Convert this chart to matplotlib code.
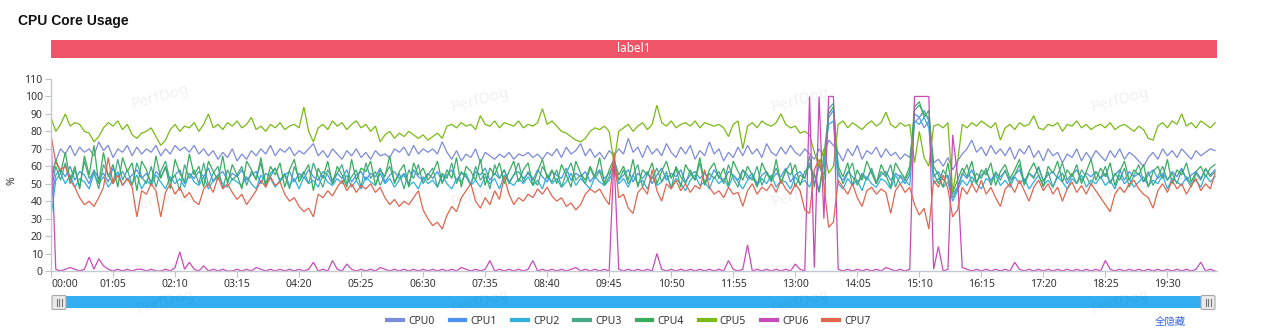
import numpy as np
import matplotlib
matplotlib.use("Agg")
import matplotlib.pyplot as plt
from matplotlib.patches import Rectangle, FancyBboxPatch

plt.rcParams['font.family'] = ['Noto Sans', 'Noto Sans CJK SC', 'DejaVu Sans']

# ---------------- data ----------------
STEP = 5  # seconds between samples
series_names = ["CPU0", "CPU1", "CPU2", "CPU3", "CPU4", "CPU5", "CPU6", "CPU7"]
tick_seconds = [0, 65, 130, 195, 260, 325, 390, 455, 520, 585, 650, 715, 780, 845, 910, 975, 1040, 1105, 1170]
tick_labels = ["00:00", "01:05", "02:10", "03:15", "04:20", "05:25", "06:30", "07:35", "08:40", "09:45",
               "10:50", "11:55", "13:00", "14:05", "15:10", "16:15", "17:20", "18:25", "19:30"]
y_ticks = [0, 10, 20, 30, 40, 50, 60, 70, 80, 90, 100, 110]

cpu0 = [55, 63, 70, 67, 72, 66, 71, 68, 70, 66, 74, 69, 72, 65, 70, 68, 72, 66, 71, 67,
        70, 68, 72, 66, 70, 67, 72, 69, 71, 68, 72, 67, 70, 66, 69, 64, 68, 65, 70, 63,
        67, 64, 69, 66, 70, 67, 72, 66, 70, 68, 71, 66, 69, 67, 70, 73, 66, 69, 65, 70,
        67, 64, 69, 66, 70, 65, 68, 64, 69, 66, 67, 65, 70, 68, 71, 66, 72, 67, 70, 68,
        70, 67, 74, 68, 64, 69, 63, 67, 65, 70, 62, 68, 66, 64, 67, 65, 68, 64, 67, 66,
        68, 65, 67, 64, 68, 66, 70, 65, 71, 67, 69, 73, 66, 70, 65, 68, 64, 69, 66, 70,
        67, 76, 68, 71, 65, 72, 67, 70, 66, 73, 68, 65, 71, 67, 72, 64, 69, 66, 74, 67,
        70, 63, 68, 65, 71, 66, 72, 67, 70, 65, 73, 68, 66, 71, 67, 72, 68, 66, 70, 67,
        64, 70, 66, 75, 72, 68, 63, 70, 66, 72, 64, 69, 67, 71, 65, 70, 66, 68, 64, 67,
        65, 85, 88, 82, 86, 62, 64, 60, 65, 58, 63, 67, 70, 75, 68, 71, 66, 72, 67, 70,
        66, 71, 64, 70, 67, 72, 65, 69, 63, 70, 66, 68, 62, 67, 65, 70, 63, 68, 64, 69,
        66, 63, 69, 65, 70, 64, 68, 66, 63, 60, 65, 68, 64, 70, 66, 69, 65, 70, 67, 64,
        69, 66, 68, 70, 69]

cpu1 = [40, 55, 58, 54, 60, 52, 57, 55, 50, 58, 53, 56, 51, 59, 54, 57, 52, 55, 58, 53,
        56, 51, 57, 54, 59, 52, 55, 58, 50, 56, 53, 57, 54, 59, 51, 55, 57, 52, 56, 54,
        58, 52, 55, 57, 50, 56, 54, 59, 52, 55, 57, 51, 56, 53, 58, 54, 52, 57, 55, 50,
        56, 53, 58, 51, 55, 57, 52, 56, 54, 59, 51, 55, 57, 53, 56, 50, 58, 54, 52, 56,
        53, 57, 51, 55, 58, 52, 56, 54, 50, 57, 55, 59, 52, 56, 53, 58, 51, 55, 57, 53,
        56, 52, 58, 54, 51, 57, 55, 53, 59, 52, 56, 54, 57, 51, 55, 58, 53, 56, 60, 52,
        55, 58, 51, 56, 53, 57, 50, 55, 59, 52, 56, 54, 58, 51, 55, 57, 53, 56, 52, 58,
        54, 51, 57, 55, 52, 58, 53, 56, 50, 55, 57, 52, 56, 54, 59, 51, 55, 57, 53, 62,
        50, 60, 55, 88, 92, 55, 52, 57, 54, 50, 56, 53, 58, 51, 55, 57, 52, 56, 54, 50,
        55, 90, 88, 92, 86, 54, 57, 52, 55, 44, 48, 56, 53, 58, 51, 55, 57, 52, 56, 54,
        57, 52, 55, 58, 51, 56, 54, 59, 52, 55, 57, 53, 56, 50, 55, 58, 52, 56, 54, 57,
        53, 56, 51, 55, 58, 52, 57, 54, 56, 51, 55, 58, 53, 56, 52, 57, 54, 59, 52, 55,
        57, 53, 58, 55, 58]

cpu2 = [31, 52, 56, 50, 55, 48, 53, 51, 47, 56, 50, 54, 48, 52, 57, 49, 53, 50, 55, 47,
        52, 49, 55, 51, 47, 54, 50, 53, 48, 56, 51, 49, 54, 47, 52, 55, 50, 48, 53, 51,
        49, 54, 50, 47, 55, 51, 53, 48, 52, 56, 49, 53, 47, 54, 50, 52, 48, 55, 51, 49,
        53, 50, 55, 48, 52, 47, 54, 51, 49, 56, 50, 53, 48, 52, 55, 49, 51, 47, 54, 50,
        52, 48, 55, 50, 47, 53, 51, 56, 49, 52, 48, 54, 50, 53, 47, 55, 51, 49, 53, 50,
        54, 49, 52, 47, 55, 50, 53, 48, 51, 56, 49, 53, 50, 47, 54, 51, 49, 52, 58, 50,
        53, 48, 55, 50, 52, 47, 54, 49, 51, 55, 48, 53, 50, 46, 52, 55, 49, 51, 47, 54,
        50, 53, 48, 55, 51, 47, 52, 54, 49, 53, 50, 55, 48, 52, 51, 47, 54, 50, 52, 48,
        56, 46, 62, 84, 86, 50, 47, 53, 49, 52, 46, 54, 50, 48, 53, 51, 47, 55, 50, 52,
        49, 86, 84, 88, 82, 50, 53, 48, 51, 40, 46, 52, 49, 54, 50, 47, 53, 51, 55, 49,
        52, 48, 54, 50, 53, 47, 51, 55, 49, 52, 48, 54, 51, 47, 53, 50, 55, 48, 52, 50,
        54, 49, 52, 47, 55, 50, 53, 48, 51, 54, 49, 52, 50, 55, 47, 53, 51, 49, 54, 50,
        52, 48, 55, 51, 54]

cpu3 = [45, 60, 52, 62, 50, 58, 48, 63, 53, 57, 47, 61, 55, 50, 64, 52, 58, 49, 62, 54,
        50, 60, 48, 57, 63, 51, 55, 46, 61, 53, 58, 50, 62, 49, 56, 60, 47, 58, 52, 55,
        60, 49, 57, 53, 62, 48, 56, 59, 51, 55, 47, 60, 53, 57, 50, 62, 54, 48, 58, 52,
        56, 61, 50, 54, 58, 48, 62, 53, 57, 49, 55, 60, 51, 56, 47, 58, 53, 61, 50, 55,
        59, 48, 56, 53, 62, 50, 57, 54, 49, 60, 52, 56, 47, 61, 53, 58, 50, 55, 62, 51,
        57, 53, 49, 60, 55, 51, 58, 48, 56, 62, 52, 55, 50, 59, 53, 57, 49, 54, 63, 52,
        58, 50, 55, 61, 48, 56, 53, 59, 51, 57, 47, 60, 54, 50, 58, 52, 62, 49, 56, 53,
        57, 50, 61, 53, 48, 58, 55, 52, 60, 49, 56, 53, 59, 51, 57, 62, 48, 55, 53, 66,
        48, 62, 52, 93, 96, 58, 50, 56, 62, 49, 55, 52, 59, 50, 57, 54, 61, 48, 55, 52,
        57, 92, 95, 90, 88, 56, 50, 58, 53, 42, 47, 55, 61, 50, 56, 53, 59, 49, 57, 52,
        58, 50, 55, 61, 49, 56, 53, 60, 51, 57, 48, 55, 62, 52, 56, 50, 58, 54, 49, 57,
        53, 60, 50, 56, 52, 59, 48, 55, 61, 51, 57, 49, 54, 60, 52, 56, 50, 58, 53, 48,
        56, 52, 59, 54, 57]

cpu4 = [50, 64, 56, 68, 52, 60, 47, 66, 55, 72, 50, 68, 54, 61, 48, 65, 57, 62, 46, 63,
        58, 49, 66, 53, 60, 47, 64, 56, 51, 67, 55, 60, 48, 63, 57, 52, 66, 50, 61, 55,
        47, 63, 58, 52, 65, 49, 60, 55, 62, 48, 58, 64, 51, 56, 61, 46, 59, 53, 63, 50,
        60, 55, 48, 64, 52, 59, 57, 63, 49, 58, 54, 66, 50, 57, 61, 48, 62, 55, 59, 52,
        56, 63, 50, 58, 53, 65, 48, 60, 57, 52, 64, 49, 59, 55, 62, 50, 57, 63, 51, 58,
        62, 49, 57, 64, 53, 58, 50, 61, 55, 48, 63, 56, 52, 60, 54, 65, 50, 58, 64, 55,
        60, 52, 64, 48, 58, 55, 62, 50, 57, 63, 53, 59, 48, 61, 56, 52, 65, 50, 58, 62,
        53, 59, 49, 63, 57, 52, 60, 55, 48, 62, 56, 51, 64, 50, 58, 55, 61, 49, 57, 60,
        55, 45, 66, 90, 94, 60, 54, 62, 49, 58, 52, 63, 56, 50, 61, 55, 48, 62, 57, 53,
        60, 94, 97, 88, 92, 60, 55, 48, 62, 45, 52, 59, 54, 63, 50, 58, 55, 62, 49, 57,
        61, 53, 58, 64, 50, 57, 62, 55, 48, 60, 56, 63, 51, 58, 54, 61, 50, 57, 64, 52,
        59, 54, 62, 49, 57, 63, 52, 58, 55, 61, 48, 57, 60, 53, 64, 50, 58, 55, 62, 51,
        57, 60, 54, 59, 61]

cpu5 = [88, 80, 84, 90, 83, 85, 84, 80, 79, 74, 77, 82, 85, 83, 86, 81, 84, 78, 76, 79,
        80, 82, 77, 72, 75, 81, 84, 80, 83, 82, 85, 80, 84, 90, 82, 84, 81, 85, 83, 86,
        82, 84, 88, 81, 83, 80, 84, 82, 85, 81, 83, 84, 82, 94, 80, 74, 82, 84, 81, 86,
        83, 85, 81, 84, 86, 82, 84, 80, 83, 74, 78, 80, 76, 79, 77, 80, 78, 76, 78, 75,
        77, 79, 76, 83, 84, 82, 85, 83, 84, 81, 89, 84, 83, 86, 82, 85, 84, 83, 86, 82,
        84, 83, 85, 93, 84, 86, 83, 80, 79, 77, 75, 74, 76, 80, 82, 81, 83, 80, 62, 80,
        82, 84, 80, 83, 85, 81, 84, 95, 85, 83, 86, 82, 84, 85, 83, 86, 82, 85, 84, 83,
        84, 82, 77, 84, 86, 70, 83, 85, 82, 86, 84, 83, 85, 90, 84, 82, 83, 79, 80, 78,
        68, 60, 70, 56, 60, 84, 86, 82, 85, 83, 81, 84, 86, 83, 85, 91, 84, 82, 85, 83,
        84, 62, 80, 65, 60, 83, 84, 82, 85, 45, 62, 84, 82, 85, 83, 86, 84, 82, 85, 75,
        82, 84, 81, 85, 83, 84, 89, 82, 81, 84, 83, 85, 80, 84, 83, 86, 82, 84, 81, 83,
        84, 82, 85, 81, 83, 84, 82, 80, 83, 81, 76, 75, 83, 85, 82, 86, 84, 90, 83, 85,
        82, 86, 84, 82, 85]

cpu6 = [78, 1, 0, 1, 2, 1, 0, 1, 8, 1, 7, 3, 1, 0, 1, 0, 1, 0, 1, 1,
        0, 1, 0, 0, 1, 0, 2, 11, 1, 5, 1, 0, 3, 0, 1, 0, 1, 0, 0, 1,
        0, 1, 0, 2, 1, 0, 1, 0, 1, 0, 1, 0, 1, 0, 1, 5, 0, 1, 0, 6,
        1, 0, 4, 1, 0, 1, 0, 1, 0, 2, 1, 0, 1, 0, 1, 0, 1, 0, 1, 0,
        1, 0, 1, 0, 1, 0, 2, 1, 0, 1, 0, 1, 6, 0, 1, 0, 1, 0, 1, 0,
        1, 6, 0, 1, 0, 1, 0, 1, 0, 1, 2, 0, 1, 0, 1, 0, 1, 0, 65, 1,
        0, 1, 0, 1, 0, 1, 0, 10, 1, 0, 1, 0, 1, 0, 1, 0, 1, 0, 1, 0,
        1, 0, 6, 1, 0, 1, 15, 0, 1, 0, 1, 0, 1, 0, 1, 0, 4, 1, 0, 100,
        2, 100, 30, 100, 100, 1, 0, 1, 0, 1, 0, 1, 0, 1, 0, 2, 1, 0, 1, 0,
        1, 100, 100, 100, 100, 1, 14, 0, 1, 78, 55, 2, 1, 0, 1, 0, 1, 0, 1, 0,
        1, 0, 5, 1, 0, 1, 0, 1, 0, 1, 0, 1, 0, 1, 0, 1, 0, 1, 0, 1,
        0, 6, 1, 0, 1, 0, 1, 0, 1, 0, 1, 0, 1, 0, 1, 0, 1, 0, 1, 0,
        1, 5, 0, 1, 0]

cpu7 = [78, 62, 58, 60, 52, 48, 42, 38, 40, 37, 42, 48, 65, 50, 55, 49, 53, 48, 31, 46,
        44, 50, 46, 31, 45, 50, 44, 48, 42, 45, 40, 38, 47, 50, 45, 54, 47, 50, 45, 41,
        44, 38, 42, 46, 52, 48, 54, 49, 51, 44, 40, 42, 37, 34, 36, 31, 44, 42, 46, 43,
        48, 52, 46, 50, 45, 49, 47, 50, 45, 48, 42, 38, 41, 37, 40, 38, 42, 46, 35, 30,
        26, 28, 24, 32, 37, 34, 42, 46, 50, 40, 36, 42, 38, 46, 41, 54, 44, 38, 42, 40,
        44, 42, 47, 44, 48, 43, 40, 42, 37, 39, 35, 38, 44, 47, 45, 47, 42, 38, 68, 42,
        44, 36, 33, 45, 48, 44, 58, 46, 40, 50, 47, 52, 46, 50, 45, 49, 47, 58, 48, 44,
        46, 42, 48, 44, 45, 37, 46, 50, 44, 48, 46, 50, 45, 52, 47, 44, 50, 46, 35, 33,
        58, 64, 50, 25, 28, 52, 48, 44, 50, 42, 37, 46, 48, 44, 47, 45, 33, 46, 50, 45,
        48, 38, 32, 36, 24, 52, 48, 55, 47, 31, 35, 48, 44, 50, 45, 52, 44, 48, 42, 37,
        47, 50, 45, 52, 46, 40, 48, 52, 46, 50, 44, 48, 40, 47, 51, 45, 49, 44, 50, 46,
        42, 38, 34, 44, 48, 45, 50, 52, 47, 44, 42, 36, 46, 50, 45, 52, 47, 50, 44, 49,
        53, 46, 50, 47, 56]

colors = ["#7d8bdb", "#4a92f2", "#2fb0e0", "#47a98a", "#3aad5c", "#7aba14", "#c94bba", "#e2654f"]
values = [cpu0, cpu1, cpu2, cpu3, cpu4, cpu5, cpu6, cpu7]
t = np.arange(len(cpu0)) * STEP
T_END = 1222

# ---------------- figure ----------------
W, H = 1270, 331
fig = plt.figure(figsize=(W / 100, H / 100), dpi=100)

def fx(px):
    return px / W

def fy(py):
    return 1 - py / H

# title
fig.text(fx(18), fy(21), "CPU Core Usage", fontsize=10, fontweight="bold", color="#111111",
         va="center", ha="left", family=["Liberation Sans", "DejaVu Sans"])

# red label bar
bar_ax = fig.add_axes([fx(51), fy(58), fx(1217) - fx(51), fy(40) - fy(58)])
bar_ax.set_xlim(0, 1); bar_ax.set_ylim(0, 1)
bar_ax.add_patch(Rectangle((0, 0), 1, 1, color="#ef5566", lw=0))
bar_ax.text(0.5, 0.5, "label1", color="white", fontsize=8.5, ha="center", va="center")
bar_ax.axis("off")

# main axes
L, R, TOP, BOT = 51, 1217, 79, 271
ax = fig.add_axes([fx(L), fy(BOT), fx(R) - fx(L), fy(TOP) - fy(BOT)])
for name, vals, c in zip(series_names, values, colors):
    ax.plot(t, vals, color=c, lw=0.9, label=name, solid_joinstyle="miter")

ax.set_xlim(0, T_END)
ax.set_ylim(0, 110)
ax.set_yticks(y_ticks)
ax.set_yticklabels([str(v) for v in y_ticks])
ax.set_xticks(tick_seconds)
ax.set_xticklabels(tick_labels)
ax.tick_params(axis="both", labelsize=7.5, colors="#333333", length=4, width=0.8, pad=2)
ax.tick_params(axis="x", colors="#bfc3cc", labelcolor="#333333", length=4)
ax.tick_params(axis="y", colors="#bfc3cc", labelcolor="#333333", length=4)
labels = ax.get_xticklabels()
labels[0].set_horizontalalignment("left")
for s in ["top", "right"]:
    ax.spines[s].set_visible(False)
for s in ["left", "bottom"]:
    ax.spines[s].set_color("#c4c8d0")
    ax.spines[s].set_linewidth(1.0)

fig.text(fx(12), fy(181), "%", rotation=90, fontsize=7.5, color="#333333", ha="center", va="center")

# watermarks
for (wx, wy) in [(160, 97), (480, 100), (800, 100), (1120, 100),
                 (160, 200), (480, 195), (800, 195), (1120, 190),
                 (165, 302), (480, 302), (800, 302), (1120, 302)]:
    fig.text(fx(wx), fy(wy), "PerfDog", fontsize=11, color="#000000", alpha=0.06,
             rotation=15, ha="center", va="center")

# data zoom slider
sl = fig.add_axes([fx(51), fy(311), fx(1217) - fx(51), fy(293) - fy(311)])
sl.set_xlim(51, 1217); sl.set_ylim(311, 293)
sl.add_patch(Rectangle((55, 296), 1157, 11.5, color="#33aef3", lw=0))
for hx in (52, 1201):
    sl.add_patch(FancyBboxPatch((hx, 295.5), 14, 14, boxstyle="round,pad=0,rounding_size=1.5",
                                facecolor="#e9e9e9", edgecolor="#a8a8a8", lw=0.8))
    for k in (-2.5, 0, 2.5):
        sl.plot([hx + 7 + k, hx + 7 + k], [299, 306], color="#777777", lw=0.8)
sl.axis("off")

# legend
handles, labs = ax.get_legend_handles_labels()
leg = fig.legend(handles, labs, ncol=8, loc="center", bbox_to_anchor=(fx(629), fy(321)),
                 frameon=False, fontsize=7.5, handlelength=1.5, handletextpad=0.5,
                 columnspacing=1.45, borderpad=0)
for h in leg.get_lines():
    h.set_linewidth(3.0)
for txt in leg.get_texts():
    txt.set_color("#333333")

fig.text(fx(1170), fy(322), "全隐藏", fontsize=7.5, color="#3a66e6", ha="center", va="center")

fig.savefig("out.png", dpi=100)
